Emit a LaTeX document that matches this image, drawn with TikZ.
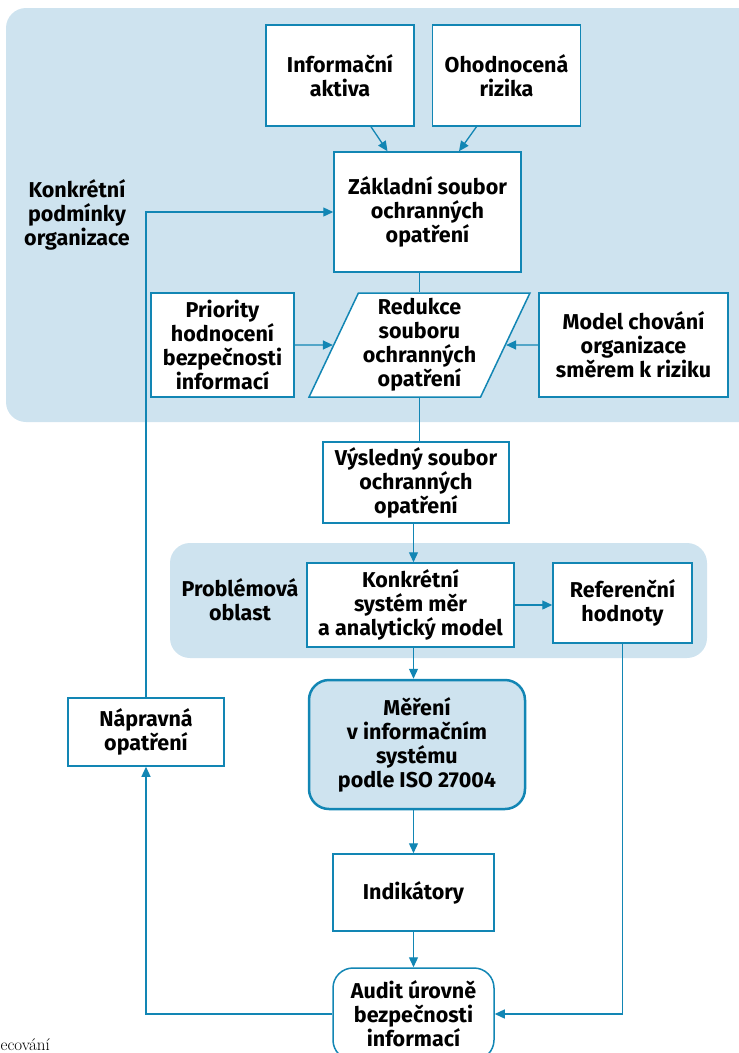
\documentclass[tikz,border=0pt]{standalone}
\usepackage{fontspec}
\setsansfont{Fira Sans}
\usepackage{tikz}
\usetikzlibrary{arrows.meta,positioning,shapes.geometric}
\definecolor{modra}{RGB}{18,134,180}
\definecolor{pozadi}{RGB}{206,227,239}

\begin{document}
\begin{tikzpicture}[x=1pt,y=-1pt,->,>={Triangle[length=10pt,width=9pt]},line width=1.3pt,draw=modra,
  box/.style={rectangle,draw=modra,fill=white,line width=1.5pt,align=center,inner sep=2pt,
    font=\sffamily\bfseries\fontsize{21.5}{24}\selectfont},
  popis/.style={align=center,font=\sffamily\bfseries\fontsize{21.5}{24}\selectfont}]
  \path[use as bounding box,clip] (0,0) rectangle (739,1053);

  % podklady
  \fill[pozadi,rounded corners=20pt] (6,8) rectangle (770,422);
  \fill[pozadi,rounded corners=20pt] (170,543) rectangle (707,658);

  \node[box,minimum width=148pt,minimum height=101pt] (info) at (340,75.5) {Informační\\aktiva};
  \node[box,minimum width=148pt,minimum height=101pt,right=17pt of info] (ohod) {Ohodnocená\\rizika};
  \node[box,minimum width=187pt,minimum height=120pt] (zakl) at (427.5,212) {Základní soubor\\ochranných\\opatření};
  \node[box,minimum width=143pt,minimum height=104pt] (prior) at (222.5,345) {Priority\\hodnocení\\bezpečnosti\\informací};
  \node[box,trapezium,trapezium left angle=64,trapezium right angle=116,trapezium stretches,
    minimum width=221pt,minimum height=104pt] (red) at (419.5,345) {Redukce\\souboru\\ochranných\\opatření};
  \node[box,minimum width=189pt,minimum height=104pt] (model) at (633.5,345) {Model chování\\organizace\\směrem k riziku};
  \node[box,minimum width=186pt,minimum height=81pt] (vysl) at (416,482.5) {Výsledný soubor\\ochranných\\opatření};
  \node[box,minimum width=207pt,minimum height=84pt] (konk) at (410.5,605) {Konkrétní\\systém měr\\a analytický model};
  \node[box,minimum width=139pt,minimum height=80pt] (ref) at (622.5,603) {Referenční\\hodnoty};
  \node[box,rounded corners=20pt,fill=pozadi,line width=2.5pt,minimum width=216pt,minimum height=129pt] (mer) at (417,744.5) {Měření\\v informačním\\systému\\podle ISO 27004};
  \node[box,minimum width=156pt,minimum height=68pt] (naprav) at (146,732) {Nápravná\\opatření};
  \node[box,minimum width=161pt,minimum height=77pt] (indik) at (413.5,892.5) {Indikátory};
  \node[box,rounded corners=20pt,minimum width=161pt,minimum height=92pt] (audit) at (413.5,1014) {Audit úrovně\\bezpečnosti\\informací};

  \node[popis] (podm) at (77,215) {Konkrétní\\podmínky\\organizace};
  \node[popis] (probl) at (240,600) {Problémová\\oblast};
  \node[anchor=base west,inner sep=0pt,font=\rmfamily\fontsize{17}{20}\selectfont] (zdroj) at (0,1050) {ecování};

  % spoje
  \draw ([xshift=31pt]info.south) -- ([xshift=-40pt]zakl.north);
  \draw ([xshift=-30pt]ohod.south) -- ([xshift=31.5pt]zakl.north);
  \draw (naprav.north) |- (zakl.west);
  \draw[-] (red.north |- zakl.south) -- (red.north);
  \draw (prior) -- (red);
  \draw (model) -- (red);
  \draw[-] (red.south) -- (red.south |- vysl.north);
  \draw (vysl.south -| indik) -- (konk.north -| indik);
  \draw (konk.east) -- (konk.east -| ref.west);
  \draw (konk.south -| indik) -- (mer.north -| indik);
  \draw (mer.south -| indik) -- (indik.north);
  \draw (indik) -- (audit);
  \draw (ref.south) |- (audit.east);
  \draw (audit.west) -| (naprav.south);
\end{tikzpicture}
\end{document}
